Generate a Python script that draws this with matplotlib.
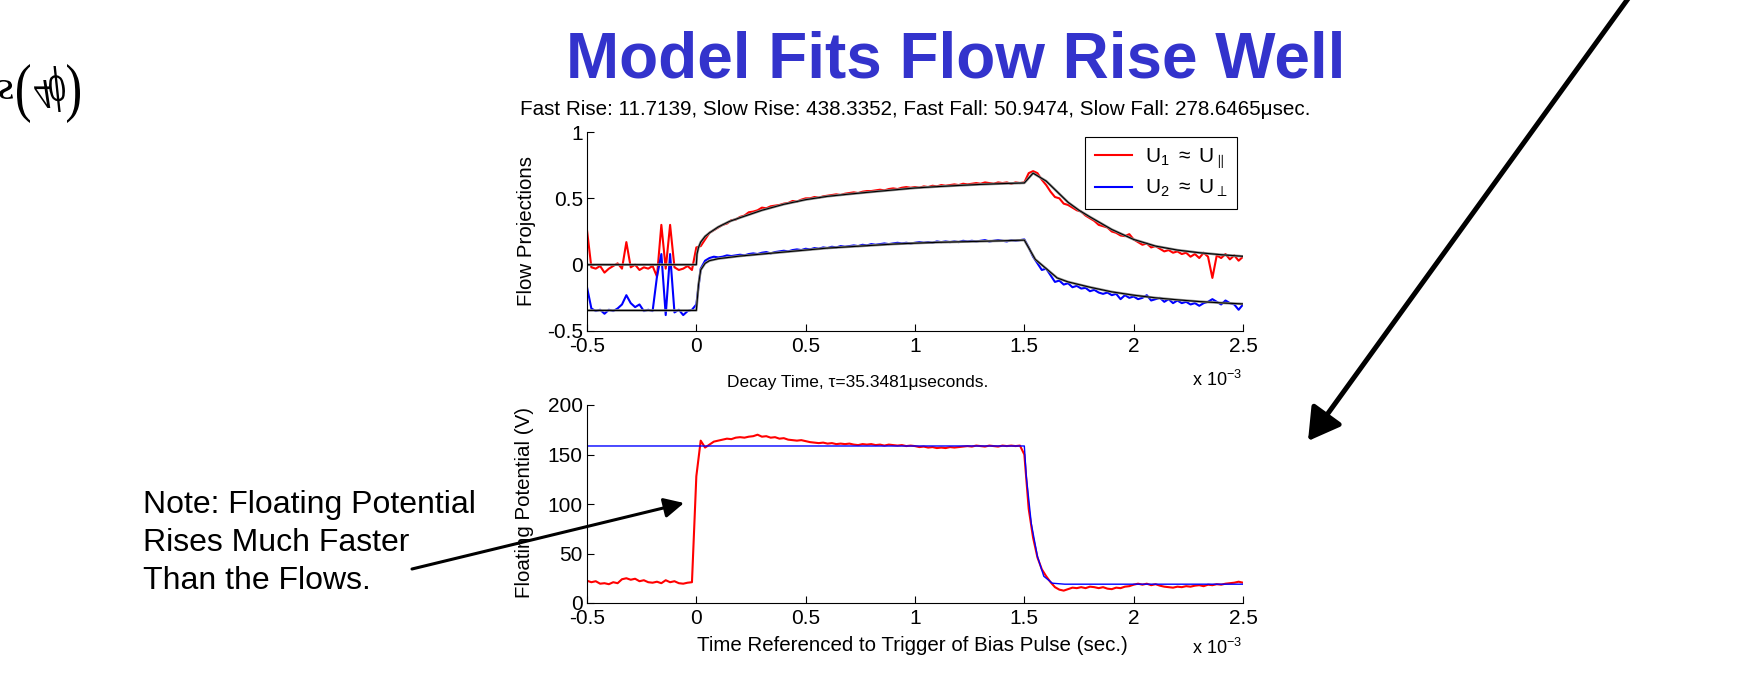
"""
Flow projection fits and floating potential for the bias pulse shot.
"""

import numpy as np
import matplotlib
matplotlib.use('Agg')
import matplotlib.pyplot as plt
from matplotlib.textpath import TextPath
from matplotlib.patches import PathPatch, FancyArrowPatch
from matplotlib.font_manager import FontProperties
from matplotlib.transforms import Affine2D

plt.rcParams.update({'font.family': 'Liberation Sans',
                     'mathtext.fontset': 'custom',
                     'mathtext.rm': 'Liberation Sans',
                     'mathtext.it': 'Liberation Sans:italic',
                     'axes.unicode_minus': False})

# sample times of the probe records, in units of 1e-3 sec
t_start = -0.5
dt = 0.02
num_samples = 151
t_ms = t_start + dt*np.arange(num_samples)

# flow projection along the field (U1)
u1 = [0.26, -0.02, -0.03, -0.01, -0.06, -0.03, -0.01, 0.01, -0.03, 0.17,
      -0.02, 0.00, -0.04, -0.02, -0.03, -0.01, -0.09, 0.30, -0.03, 0.30,
      -0.02, -0.04, -0.03, -0.01, -0.04, 0.13, 0.14, 0.19, 0.24, 0.26,
      0.28, 0.30, 0.31, 0.335, 0.34, 0.36, 0.37, 0.395, 0.40, 0.41,
      0.43, 0.425, 0.44, 0.445, 0.45, 0.46, 0.465, 0.48, 0.475, 0.49,
      0.50, 0.50, 0.51, 0.505, 0.515, 0.52, 0.525, 0.53, 0.525, 0.535,
      0.54, 0.545, 0.54, 0.55, 0.555, 0.555, 0.56, 0.565, 0.56, 0.57,
      0.575, 0.57, 0.58, 0.585, 0.58, 0.585, 0.58, 0.59, 0.585, 0.595,
      0.59, 0.60, 0.595, 0.60, 0.605, 0.60, 0.61, 0.605, 0.61, 0.615,
      0.61, 0.62, 0.615, 0.61, 0.62, 0.615, 0.62, 0.61, 0.62, 0.615,
      0.62, 0.69, 0.705, 0.69, 0.64, 0.60, 0.55, 0.51, 0.50, 0.46,
      0.45, 0.43, 0.41, 0.40, 0.37, 0.35, 0.33, 0.30, 0.29, 0.28,
      0.25, 0.24, 0.22, 0.215, 0.23, 0.19, 0.17, 0.15, 0.16, 0.13,
      0.14, 0.12, 0.10, 0.11, 0.09, 0.10, 0.08, 0.09, 0.06, 0.08,
      0.05, 0.09, 0.06, -0.10, 0.07, 0.05, 0.08, 0.04, 0.07, 0.03, 0.06]

# flow projection across the field (U2)
u2 = [-0.17, -0.33, -0.35, -0.34, -0.37, -0.34, -0.35, -0.33, -0.30, -0.23,
      -0.29, -0.32, -0.30, -0.35, -0.34, -0.35, -0.09, 0.08, -0.38, 0.08,
      -0.36, -0.34, -0.38, -0.35, -0.34, -0.30, -0.03, 0.03, 0.05, 0.06,
      0.055, 0.06, 0.07, 0.065, 0.07, 0.075, 0.07, 0.08, 0.085, 0.08,
      0.09, 0.095, 0.085, 0.095, 0.10, 0.105, 0.10, 0.11, 0.115, 0.11,
      0.12, 0.115, 0.125, 0.12, 0.13, 0.125, 0.135, 0.13, 0.14, 0.135,
      0.14, 0.145, 0.14, 0.15, 0.145, 0.155, 0.15, 0.155, 0.16, 0.155,
      0.16, 0.165, 0.16, 0.165, 0.16, 0.165, 0.17, 0.165, 0.17, 0.165,
      0.175, 0.17, 0.175, 0.17, 0.175, 0.17, 0.18, 0.175, 0.18, 0.175,
      0.18, 0.185, 0.175, 0.18, 0.185, 0.18, 0.175, 0.185, 0.18, 0.185,
      0.19, 0.13, 0.06, 0.01, -0.04, -0.03, -0.08, -0.13, -0.12, -0.15,
      -0.14, -0.17, -0.16, -0.18, -0.175, -0.20, -0.19, -0.21, -0.22, -0.21,
      -0.23, -0.22, -0.26, -0.23, -0.25, -0.24, -0.26, -0.25, -0.23, -0.27,
      -0.26, -0.25, -0.28, -0.26, -0.29, -0.27, -0.29, -0.28, -0.30, -0.29,
      -0.31, -0.29, -0.28, -0.26, -0.28, -0.30, -0.27, -0.29, -0.30, -0.34, -0.30]

# floating potential (V)
vf = [22.5, 21, 22, 19.5, 20, 19, 21, 20, 24, 25,
      23.5, 24.5, 22, 23, 21, 20.5, 21.5, 20, 23, 21,
      22, 20, 19.5, 20.5, 21, 128, 164, 157, 160, 163,
      164, 165, 166, 165.5, 167, 167.5, 167, 168, 168.5, 170,
      168, 168.5, 167, 167.5, 166, 166.5, 165, 164.5, 164, 164.5,
      163.5, 162.5, 162, 161.5, 162, 161, 161.5, 160.5, 161, 160.5,
      161, 160, 159.5, 160.5, 160, 160.5, 159.5, 160, 159, 160,
      159.5, 159, 159.5, 158.5, 159, 158.5, 157.5, 158, 157, 157.5,
      156.5, 157, 156.5, 157.5, 157, 157.5, 158, 158.5, 158, 159,
      158.5, 158, 159, 158.5, 158, 159, 158.5, 159, 158.5, 159,
      150, 95, 66, 46, 34, 27, 21, 16, 13.5, 12.5,
      14, 15.5, 15, 16, 15, 16.5, 16, 15, 16, 14.5,
      14, 15.5, 15, 16.5, 17, 18.5, 19.5, 18.5, 19.5, 18,
      19, 17.5, 16.5, 16, 15.5, 16.5, 16, 17, 16.5, 17.5,
      18, 17, 18.5, 18, 19, 18.5, 19.5, 20, 20.5, 21.5, 20.5]

# two-timescale model fits
fit_t_u1 = [-0.5, 0.0, 0.003, 0.01, 0.02, 0.04, 0.06, 0.1, 0.15, 0.2, 0.3, 0.4,
            0.5, 0.6, 0.7, 0.8, 0.9, 1.0, 1.1, 1.2, 1.3, 1.4, 1.5, 1.54, 1.6,
            1.7, 1.75, 1.8, 1.9, 2.0, 2.1, 2.2, 2.3, 2.4, 2.5]
fit_u1 = [0.0, 0.0, 0.08, 0.13, 0.17, 0.213, 0.24, 0.284, 0.325, 0.354, 0.41, 0.455,
          0.49, 0.515, 0.532, 0.548, 0.563, 0.578, 0.588, 0.597, 0.605, 0.611, 0.616, 0.69, 0.63,
          0.47, 0.41, 0.36, 0.265, 0.19, 0.14, 0.11, 0.09, 0.075, 0.063]
fit_t_u2 = [-0.5, 0.0, 0.005, 0.01, 0.02, 0.04, 0.06, 0.1, 0.2, 0.3, 0.4, 0.5,
            0.6, 0.7, 0.8, 0.9, 1.0, 1.1, 1.2, 1.3, 1.4, 1.5, 1.55, 1.6, 1.65,
            1.7, 1.8, 1.9, 2.0, 2.1, 2.2, 2.3, 2.4, 2.5]
fit_u2 = [-0.345, -0.345, -0.25, -0.15, -0.04, 0.01, 0.03, 0.045, 0.065, 0.08, 0.095, 0.11,
          0.125, 0.135, 0.145, 0.155, 0.162, 0.168, 0.172, 0.176, 0.18, 0.185, 0.04, -0.03, -0.10,
          -0.13, -0.17, -0.205, -0.23, -0.25, -0.265, -0.278, -0.288, -0.296]
fit_t_vf = [-0.5, 1.5, 1.509, 1.532, 1.56, 1.589, 1.628, 1.685, 2.5]
fit_vf = [158.6, 158.6, 128, 80, 47, 27, 20, 19, 19]

xticks = [-0.5, 0, 0.5, 1, 1.5, 2, 2.5]
xticklabels = ['-0.5', '0', '0.5', '1', '1.5', '2', '2.5']
yticks_flow = [-0.5, 0, 0.5, 1]
yticklabels_flow = ['-0.5', '0', '0.5', '1']
yticks_vf = [0, 50, 100, 150, 200]

W, H = 1750, 693
fig = plt.figure(figsize=(W/100, H/100), dpi=100)

def fx(x):
    return x/W

def fy(y):
    return 1 - y/H

def style_axes(ax, yticks, ylabels):
    ax.spines['top'].set_visible(False)
    ax.spines['right'].set_visible(False)
    ax.set_xlim(-0.5, 2.5)
    ax.set_xticks(xticks)
    ax.set_xticklabels(xticklabels)
    ax.set_yticks(yticks)
    ax.set_yticklabels(ylabels)
    ax.tick_params(direction='in', length=5, width=0.8, labelsize=15)
    ax.tick_params(axis='x', pad=4.5)
    ax.tick_params(axis='y', pad=3)

# top panel: flow projections
ax1 = fig.add_axes([fx(587), fy(331), fx(656), 199/H])
l1, = ax1.plot(t_ms, u1, color='r', lw=1.5)
l2, = ax1.plot(t_ms, u2, color='b', lw=1.5)
for ft, fv in [(fit_t_u1, fit_u1), (fit_t_u2, fit_u2)]:
    ax1.plot(ft, fv, color='0.55', lw=1.8)
    ax1.plot(ft, fv, color='k', lw=0.8)
ax1.set_ylim(-0.5, 1)
style_axes(ax1, yticks_flow, yticklabels_flow)
leg = ax1.legend([l1, l2], [r'U$_1$ $\approx$ U$_{\parallel}$', r'U$_2$ $\approx$ U$_{\perp}$'],
                 loc='upper right', bbox_to_anchor=(0.991, 0.975), borderaxespad=0,
                 fancybox=False, framealpha=1, edgecolor='k', fontsize=15,
                 handlelength=1.8, handletextpad=0.6, labelspacing=0.35, borderpad=0.45)
leg.get_frame().set_linewidth(0.8)

# bottom panel: floating potential
ax2 = fig.add_axes([fx(587), fy(603), fx(656), 198/H])
ax2.plot(t_ms, vf, color='r', lw=1.5)
ax2.plot(fit_t_vf, fit_vf, color='b', lw=1.0)
ax2.set_ylim(0, 200)
style_axes(ax2, yticks_vf, [str(v) for v in yticks_vf])

# text around the panels
fig.text(fx(956), fy(78), 'Model Fits Flow Rise Well', ha='center', va='baseline',
         fontsize=46, fontweight='bold', color='#3333cc')
fig.text(fx(915), fy(115),
         'Fast Rise: 11.7139, Slow Rise: 438.3352, Fast Fall: 50.9474, Slow Fall: 278.6465\u03bcsec.',
         ha='center', va='baseline', fontsize=14.9)
fig.text(fx(858), fy(387), 'Decay Time, \u03c4=35.3481\u03bcseconds.', ha='center', va='baseline',
         fontsize=12.5)
fig.text(fx(527), fy(231), 'Flow Projections', rotation=90, ha='center', va='center', fontsize=14.8)
fig.text(fx(525), fy(503), 'Floating Potential (V)', rotation=90, ha='center', va='center', fontsize=14.8)
fig.text(fx(912), fy(651), 'Time Referenced to Trigger of Bias Pulse (sec.)', ha='center',
         va='baseline', fontsize=14.8)
for ybase in [386, 654]:
    fig.text(fx(1192), fy(ybase), r'x 10$^{-3}$', ha='left', va='baseline', fontsize=13)

fig.text(fx(143), fy(543), 'Note: Floating Potential\nRises Much Faster\nThan the Flows.',
         ha='left', va='center', fontsize=23, linespacing=1.33)

# arrows
fig.add_artist(FancyArrowPatch((fx(412), fy(569)), (fx(684), fy(503)), transform=fig.transFigure,
                               arrowstyle='-|>,head_length=0.6,head_width=0.3',
                               mutation_scale=20, lw=2.2, color='k', shrinkA=0, shrinkB=0))
fig.add_artist(FancyArrowPatch((fx(1643), fy(-22)), (fx(1308), fy(441)), transform=fig.transFigure,
                               arrowstyle='-|>,head_length=0.6,head_width=0.35',
                               mutation_scale=32, lw=3.6, color='k', shrinkA=0, shrinkB=0))

# upside-down symbol fragment in the top left corner
def flipped_glyph(s, x0, x1, ytop, ybot, family='Liberation Serif', style='italic'):
    prop = FontProperties(family=family, style=style)
    tp = TextPath((0, 0), s, size=1, prop=prop)
    (xmin, ymin), (xmax, ymax) = tp.get_extents().get_points()
    kx = (x1 - x0)/(xmax - xmin)
    ky = (ybot - ytop)/(ymax - ymin)
    tr = Affine2D().translate(-xmin, -ymax).scale(kx, -ky).translate(x0, H - ybot)
    fig.add_artist(PathPatch(tp, transform=tr, facecolor='k', edgecolor='none'))

flipped_glyph('s', -3, 13, 80, 99)
flipped_glyph('(', 17, 30, 64, 123, style='normal')
flipped_glyph('4', 34, 51, 80, 108)
flipped_glyph('\u03d5', 49, 65, 66, 112, family='DejaVu Serif')
flipped_glyph(')', 67, 80, 64, 123, style='normal')

fig.savefig('out.png', dpi=100, facecolor='white')
